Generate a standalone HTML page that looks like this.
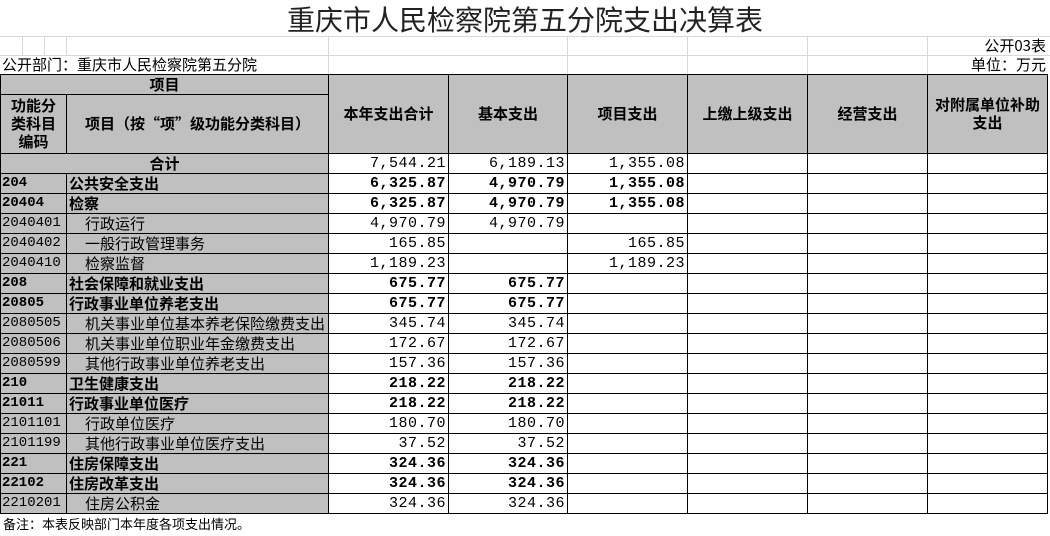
<!DOCTYPE html>
<html><head><meta charset="utf-8"><style>
body{margin:0;width:1050px;height:536px;background:#fff;overflow:hidden;position:relative;font-family:"Liberation Sans","Noto Sans CJK SC",sans-serif;}
.g{position:absolute;background:#d8d8d8}
table{position:absolute;left:0;top:74px;width:1047px;border-collapse:collapse;table-layout:fixed;font-family:"Liberation Mono","Noto Sans CJK SC",monospace;font-size:15px;}
td{border:1px solid #000;height:19px;padding:0 2px;white-space:nowrap;overflow:hidden;line-height:19px}
.h{background:#c0c0c0;font-weight:bold;text-align:center;line-height:18px;font-family:"Noto Sans CJK SC",sans-serif;font-size:15px}
.c{background:#c0c0c0}
.cd{font-size:14px;padding:0 1px}
.n{text-align:right;letter-spacing:0.5px}
.bd td{font-weight:bold}
.i{padding-left:18px;padding-right:0}
.nm{font-family:"Noto Sans CJK SC",sans-serif;font-size:15px}
</style></head><body>
<div class="g" style="left:0;top:36px;width:1050px;height:1px"></div>
<div class="g" style="left:0;top:55px;width:1050px;height:1px"></div>
<div class="g" style="left:22px;top:36px;width:1px;height:19px"></div>
<div class="g" style="left:44px;top:36px;width:1px;height:19px"></div>
<div class="g" style="left:66px;top:36px;width:1px;height:19px"></div>
<div class="g" style="left:328px;top:36px;width:1px;height:38px"></div>
<div class="g" style="left:567px;top:36px;width:1px;height:38px"></div>
<div class="g" style="left:687px;top:36px;width:1px;height:38px"></div>
<div class="g" style="left:807px;top:36px;width:1px;height:38px"></div>
<div class="g" style="left:927px;top:36px;width:1px;height:38px"></div>
<div style="position:absolute;left:0;width:1050px;top:1px;text-align:center;font-size:28px;font-family:'Noto Sans CJK SC',sans-serif;color:#222;line-height:36px">重庆市人民检察院第五分院支出决算表</div>
<div style="position:absolute;right:4px;top:37px;font-size:15px;font-family:'Noto Sans CJK SC',sans-serif;line-height:18px">公开03表</div>
<div style="position:absolute;right:4px;top:56px;font-size:15px;font-family:'Noto Sans CJK SC',sans-serif;line-height:18px">单位：万元</div>
<div style="position:absolute;left:2px;top:56px;font-size:15px;font-family:'Noto Sans CJK SC',sans-serif;line-height:18px">公开部门：重庆市人民检察院第五分院</div>
<table>
<colgroup><col style="width:66px"><col style="width:262px"><col style="width:120px"><col style="width:119px"><col style="width:120px"><col style="width:120px"><col style="width:120px"><col style="width:120px"></colgroup>
<tr><td class="h" colspan="2">项目</td><td class="h" rowspan="2">本年支出合计</td><td class="h" rowspan="2">基本支出</td><td class="h" rowspan="2">项目支出</td><td class="h" rowspan="2">上缴上级支出</td><td class="h" rowspan="2">经营支出</td><td class="h" rowspan="2">对附属单位补助<br>支出</td></tr>
<tr><td class="h" style="height:58px">功能分<br>类科目<br>编码</td><td class="h">项目（按“项”级功能分类科目）</td></tr>
<tr><td class="h" colspan="2">合计</td><td class="n">7,544.21</td><td class="n">6,189.13</td><td class="n">1,355.08</td><td></td><td></td><td></td></tr>
<tr class="bd"><td class="c cd">204</td><td class="c nm">公共安全支出</td><td class="n">6,325.87</td><td class="n">4,970.79</td><td class="n">1,355.08</td><td></td><td></td><td></td></tr>
<tr class="bd"><td class="c cd">20404</td><td class="c nm">检察</td><td class="n">6,325.87</td><td class="n">4,970.79</td><td class="n">1,355.08</td><td></td><td></td><td></td></tr>
<tr><td class="c cd">2040401</td><td class="c nm i">行政运行</td><td class="n">4,970.79</td><td class="n">4,970.79</td><td></td><td></td><td></td><td></td></tr>
<tr><td class="c cd">2040402</td><td class="c nm i">一般行政管理事务</td><td class="n">165.85</td><td></td><td class="n">165.85</td><td></td><td></td><td></td></tr>
<tr><td class="c cd">2040410</td><td class="c nm i">检察监督</td><td class="n">1,189.23</td><td></td><td class="n">1,189.23</td><td></td><td></td><td></td></tr>
<tr class="bd"><td class="c cd">208</td><td class="c nm">社会保障和就业支出</td><td class="n">675.77</td><td class="n">675.77</td><td></td><td></td><td></td><td></td></tr>
<tr class="bd"><td class="c cd">20805</td><td class="c nm">行政事业单位养老支出</td><td class="n">675.77</td><td class="n">675.77</td><td></td><td></td><td></td><td></td></tr>
<tr><td class="c cd">2080505</td><td class="c nm i">机关事业单位基本养老保险缴费支出</td><td class="n">345.74</td><td class="n">345.74</td><td></td><td></td><td></td><td></td></tr>
<tr><td class="c cd">2080506</td><td class="c nm i">机关事业单位职业年金缴费支出</td><td class="n">172.67</td><td class="n">172.67</td><td></td><td></td><td></td><td></td></tr>
<tr><td class="c cd">2080599</td><td class="c nm i">其他行政事业单位养老支出</td><td class="n">157.36</td><td class="n">157.36</td><td></td><td></td><td></td><td></td></tr>
<tr class="bd"><td class="c cd">210</td><td class="c nm">卫生健康支出</td><td class="n">218.22</td><td class="n">218.22</td><td></td><td></td><td></td><td></td></tr>
<tr class="bd"><td class="c cd">21011</td><td class="c nm">行政事业单位医疗</td><td class="n">218.22</td><td class="n">218.22</td><td></td><td></td><td></td><td></td></tr>
<tr><td class="c cd">2101101</td><td class="c nm i">行政单位医疗</td><td class="n">180.70</td><td class="n">180.70</td><td></td><td></td><td></td><td></td></tr>
<tr><td class="c cd">2101199</td><td class="c nm i">其他行政事业单位医疗支出</td><td class="n">37.52</td><td class="n">37.52</td><td></td><td></td><td></td><td></td></tr>
<tr class="bd"><td class="c cd">221</td><td class="c nm">住房保障支出</td><td class="n">324.36</td><td class="n">324.36</td><td></td><td></td><td></td><td></td></tr>
<tr class="bd"><td class="c cd">22102</td><td class="c nm">住房改革支出</td><td class="n">324.36</td><td class="n">324.36</td><td></td><td></td><td></td><td></td></tr>
<tr><td class="c cd">2210201</td><td class="c nm i">住房公积金</td><td class="n">324.36</td><td class="n">324.36</td><td></td><td></td><td></td><td></td></tr>
</table>
<div style="position:absolute;left:3px;top:516px;font-size:13px;font-family:'Noto Sans CJK SC',sans-serif;line-height:16px">备注：本表反映部门本年度各项支出情况。</div>
</body></html>
